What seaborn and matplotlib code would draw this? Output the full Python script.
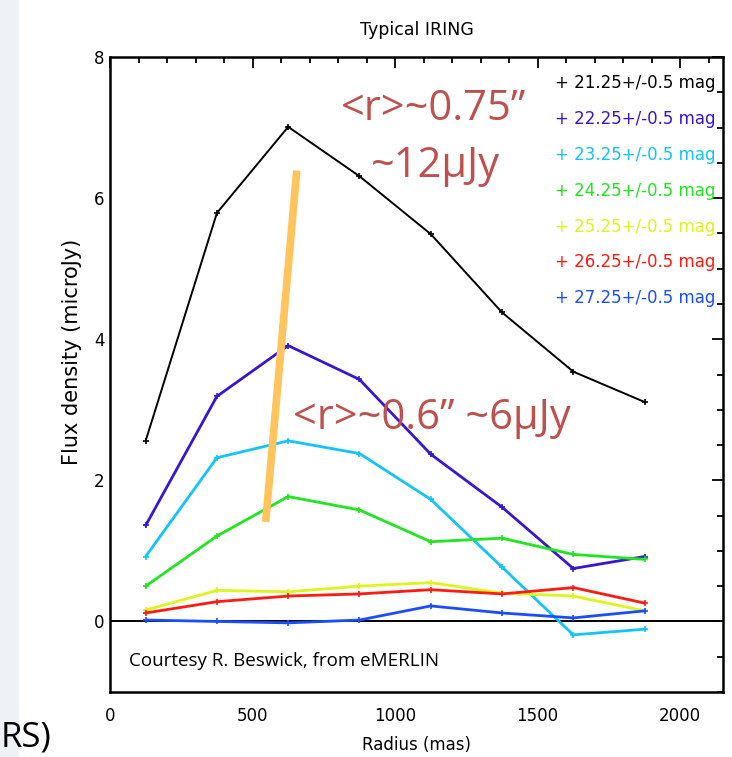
import numpy as np
import pandas as pd
import matplotlib
matplotlib.use("Agg")
import matplotlib.pyplot as plt
from matplotlib.ticker import MultipleLocator
import seaborn as sns

# radius bin centres (mas)
radius = [125, 375, 625, 875, 1125, 1375, 1625, 1875]

# stacked flux density per magnitude bin (microJy)
flux_21 = [2.56, 5.79, 7.01, 6.31, 5.49, 4.38, 3.54, 3.11]
flux_22 = [1.36, 3.19, 3.91, 3.43, 2.37, 1.62, 0.75, 0.92]
flux_23 = [0.92, 2.32, 2.56, 2.38, 1.73, 0.77, -0.19, -0.11]
flux_24 = [0.50, 1.21, 1.77, 1.58, 1.13, 1.18, 0.95, 0.88]
flux_25 = [0.16, 0.44, 0.42, 0.50, 0.55, 0.40, 0.36, 0.15]
flux_26 = [0.12, 0.28, 0.36, 0.39, 0.45, 0.39, 0.48, 0.26]
flux_27 = [0.02, 0.00, -0.02, 0.02, 0.22, 0.12, 0.05, 0.15]

labels = ["+ 21.25+/-0.5 mag", "+ 22.25+/-0.5 mag", "+ 23.25+/-0.5 mag",
          "+ 24.25+/-0.5 mag", "+ 25.25+/-0.5 mag", "+ 26.25+/-0.5 mag",
          "+ 27.25+/-0.5 mag"]
colors = ["#000000", "#3a14d6", "#12c4fa", "#1fe61f", "#dcf51a", "#ff1a12", "#1a4dff"]

# hand-drawn annotation line (data coords)
slash_x = [655, 546]
slash_y = [6.39, 1.41]

series = [flux_21, flux_22, flux_23, flux_24, flux_25, flux_26, flux_27]
df = pd.concat([pd.DataFrame({"Radius": radius, "Flux": f, "Bin": lab})
                for f, lab in zip(series, labels)], ignore_index=True)

sns.set_style("white")
plt.rcParams["font.family"] = ["DejaVu Sans"]
plt.rcParams["text.color"] = "black"
plt.rcParams["axes.labelcolor"] = "black"

fig = plt.figure(figsize=(7.32, 7.57), dpi=100)
# pale slide strip on the left edge
fig.patches.append(plt.Rectangle((0, 0), 18 / 732, 1, transform=fig.transFigure,
                                 color="#eef2f7", zorder=0))
ax = fig.add_axes([110 / 732, 65 / 757, 613 / 732, 635 / 757])

for lab, col in zip(labels, colors):
    sub = df[df["Bin"] == lab]
    sns.lineplot(data=sub, x="Radius", y="Flux", color=col, sort=False,
                 lw=1.4 if col == "#000000" else 2.0, marker="+", markersize=5,
                 mew=1.2, mec=col, legend=False, ax=ax, zorder=3)

ax.axhline(0, color="black", lw=1.4, zorder=2)
ax.plot(slash_x, slash_y, color="#ffc55c", lw=5.5, solid_capstyle="butt", zorder=4)

ax.set_xlim(0, 2150)
ax.set_ylim(-1, 8)
ax.set_xticks([0, 500, 1000, 1500, 2000])
ax.set_yticks([0, 2, 4, 6, 8])
ax.xaxis.set_minor_locator(MultipleLocator(100))
ax.yaxis.set_minor_locator(MultipleLocator(0.5))
ax.tick_params(which="both", direction="in", top=True, right=True, width=1.3,
               labelsize=12, colors="black")
ax.tick_params(which="major", length=8)
ax.tick_params(which="minor", length=4.5)
ax.tick_params(axis="x", pad=11)
ax.tick_params(axis="y", pad=4)
for s in ax.spines.values():
    s.set_linewidth(1.8)
    s.set_color("black")

ax.set_title("Typical IRING", fontsize=12.5, pad=16, color="black")
ax.set_xlabel("Radius (mas)", fontsize=12, labelpad=8)
ax.set_ylabel("Flux density (microJy)", fontsize=15)
ax.yaxis.set_label_coords(-0.046, 0.535)

# legend as coloured text, right aligned
for i, (lab, col) in enumerate(zip(labels, colors)):
    ax.text(0.988, 0.959 - i * 0.0565, lab, color=col, fontsize=12,
            ha="right", va="center", transform=ax.transAxes, zorder=5)

note = "#c0504d"
ax.text(810, 7.27, "<r>~0.75\u201d", color=note, fontsize=30, family="Open Sans",
        va="center", ha="left", zorder=5)
ax.text(915, 6.46, "~12\u00b5Jy", color=note, fontsize=30, family="Open Sans",
        va="center", ha="left", zorder=5)
ax.text(641, 2.88, "<r>~0.6\u201d ~6\u00b5Jy", color=note, fontsize=30,
        family="Open Sans", va="center", ha="left", zorder=5)
ax.text(66, -0.56, "Courtesy R. Beswick, from eMERLIN", color="black", fontsize=13.5,
        family="Open Sans", va="center", ha="left", zorder=5)

fig.text(0.001, 3 / 757, "RS)", fontsize=25, family="Open Sans", color="black",
         ha="left", va="bottom")

fig.savefig("out.png", dpi=100)
